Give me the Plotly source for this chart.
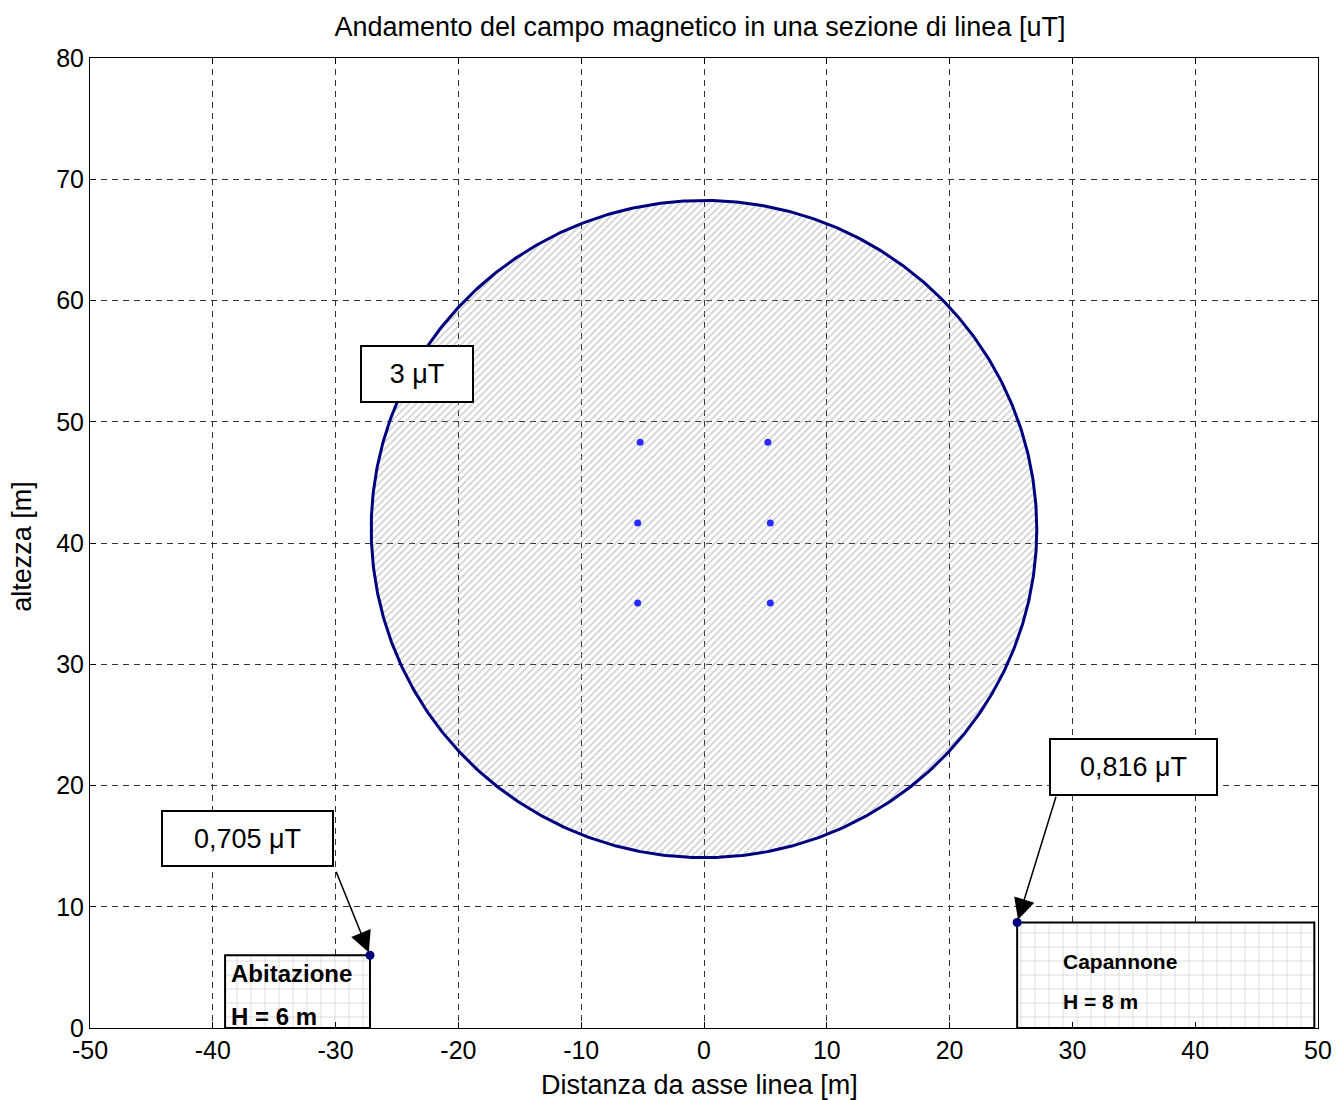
import numpy as np
import plotly.graph_objects as go

# ---- data ----
title_text = "Andamento del campo magnetico in una sezione di linea [uT]"
x_label = "Distanza da asse linea [m]"
y_label = "altezza [m]"

x_ticks = [-50, -40, -30, -20, -10, 0, 10, 20, 30, 40, 50]
x_ticklabels = ["-50", "-40", "-30", "-20", "-10", "0", "10", "20", "30", "40", "50"]
y_ticks = [0, 10, 20, 30, 40, 50, 60, 70, 80]
y_ticklabels = ["0", "10", "20", "30", "40", "50", "60", "70", "80"]

# conductors (x, y)
cond_x = [-5.2, 5.2, -5.4, 5.4, -5.4, 5.4]
cond_y = [48.3, 48.3, 41.65, 41.65, 35.05, 35.05]

# 3 uT contour (circle)
circle_cx = 0.0
circle_cy = 41.15
circle_r = 27.1
circle_label = "3 \u03bcT"

# buildings
abit_x = [-39.0, -27.2, -27.2, -39.0, -39.0]
abit_y = [0.0, 0.0, 6.0, 6.0, 0.0]
capan_x = [25.5, 49.7, 49.7, 25.5, 25.5]
capan_y = [0.0, 0.0, 8.7, 8.7, 0.0]

# evaluation points
pts_x = [-27.2, 25.5]
pts_y = [6.0, 8.7]
pts_labels = ["0,705 \u03bcT", "0,816 \u03bcT"]

FONT = "Liberation Sans, Arial, sans-serif"

fig = go.Figure()

bpattern = dict(shape="+", size=14, solidity=0.08, fgcolor="#8a8a8a",
                bgcolor="rgba(255,255,255,1)")
# buildings
fig.add_trace(go.Scatter(
    x=abit_x, y=abit_y, mode="lines", fill="toself",
    fillcolor="rgba(0,0,0,0)", fillpattern=bpattern,
    line=dict(color="black", width=2), hoverinfo="skip", showlegend=False))
fig.add_trace(go.Scatter(
    x=capan_x, y=capan_y, mode="lines", fill="toself",
    fillcolor="rgba(0,0,0,0)", fillpattern=bpattern,
    line=dict(color="black", width=2), hoverinfo="skip", showlegend=False))

# circle contour
t = np.linspace(0, 2 * np.pi, 721)
circ_x = circle_cx + circle_r * np.cos(t)
circ_y = circle_cy + circle_r * np.sin(t)
fig.add_trace(go.Scatter(
    x=circ_x, y=circ_y, mode="lines", fill="toself",
    fillcolor="rgba(0,0,0,0)",
    fillpattern=dict(shape="/", size=5, solidity=0.3, fgcolor="#9a9a9a",
                     bgcolor="rgba(255,255,255,0)"),
    line=dict(color="#00007f", width=3), hoverinfo="skip", showlegend=False))

# conductors
fig.add_trace(go.Scatter(
    x=cond_x, y=cond_y, mode="markers",
    marker=dict(color="#2a2aff", size=7), showlegend=False))

# evaluation points
fig.add_trace(go.Scatter(
    x=pts_x, y=pts_y, mode="markers",
    marker=dict(color="#00007f", size=9), showlegend=False))

annotations = []
box_font = dict(family=FONT, size=27, color="black")

# 3 uT label
annotations.append(dict(x=-23.4, y=53.9, xref="x", yref="y", text=circle_label,
                        showarrow=False, font=box_font, bgcolor="white",
                        bordercolor="black", borderwidth=2, width=108, height=52))
# value labels
annotations.append(dict(x=-37.2, y=15.63, xref="x", yref="y", text=pts_labels[0],
                        showarrow=False, font=box_font, bgcolor="white",
                        bordercolor="black", borderwidth=2, width=167, height=51))
annotations.append(dict(x=35.0, y=21.5, xref="x", yref="y", text=pts_labels[1],
                        showarrow=False, font=box_font, bgcolor="white",
                        bordercolor="black", borderwidth=2, width=163, height=52))
# arrows
annotations.append(dict(x=pts_x[0], y=pts_y[0], ax=-30.0, ay=13.0, xref="x", yref="y",
                        axref="x", ayref="y", text="", showarrow=True, arrowhead=2,
                        arrowsize=2.8, arrowwidth=1.5, arrowcolor="black", standoff=3))
annotations.append(dict(x=pts_x[1], y=pts_y[1], ax=28.7, ay=19.2, xref="x", yref="y",
                        axref="x", ayref="y", text="", showarrow=True, arrowhead=2,
                        arrowsize=2.8, arrowwidth=1.5, arrowcolor="black", standoff=3))
# building labels
bfont = dict(family=FONT, size=24, color="black")
annotations.append(dict(x=-38.7, y=4.5, xref="x", yref="y", text="<b>Abitazione</b>",
                        showarrow=False, xanchor="left", font=bfont))
annotations.append(dict(x=-38.7, y=0.95, xref="x", yref="y", text="<b>H = 6 m</b>",
                        showarrow=False, xanchor="left", font=bfont))
bfont2 = dict(family=FONT, size=21, color="black")
annotations.append(dict(x=29.1, y=5.5, xref="x", yref="y", text="<b>Capannone</b>",
                        showarrow=False, xanchor="left", font=bfont2))
annotations.append(dict(x=29.1, y=2.2, xref="x", yref="y", text="<b>H = 8 m</b>",
                        showarrow=False, xanchor="left", font=bfont2))

# axis titles
lab_font = dict(family=FONT, size=27, color="black")
annotations.append(dict(x=0.496, y=-0.0588, xref="paper", yref="paper", text=x_label,
                        showarrow=False, xanchor="center", yanchor="middle", font=lab_font))
annotations.append(dict(x=-0.0555, y=0.497, xref="paper", yref="paper", text=y_label,
                        showarrow=False, xanchor="center", yanchor="middle", textangle=-90,
                        font=lab_font))

axis_common = dict(
    showline=True, linecolor="black", linewidth=1, mirror="ticks",
    ticks="inside", ticklen=6, tickcolor="black", automargin=False,
    showgrid=True, gridcolor="#333333", gridwidth=1, griddash="6px,5px",
    zeroline=False, tickfont=dict(family=FONT, size=25, color="black"),
    tickmode="array",
)

fig.update_layout(
    width=1336, height=1100,
    margin=dict(l=90, r=18, t=58, b=72),
    paper_bgcolor="white", plot_bgcolor="white",
    title=dict(text=title_text, x=0.4967, xref="paper", y=1 - 27 / 1100, yref="container",
               yanchor="middle", xanchor="center",
               font=dict(family=FONT, size=27, color="black")),
    xaxis=dict(range=[-50, 50], tickvals=x_ticks, ticktext=x_ticklabels, **axis_common),
    yaxis=dict(range=[0, 80], tickvals=y_ticks, ticktext=y_ticklabels, **axis_common),
    annotations=annotations,
    showlegend=False,
)

fig.write_html("out.html")
